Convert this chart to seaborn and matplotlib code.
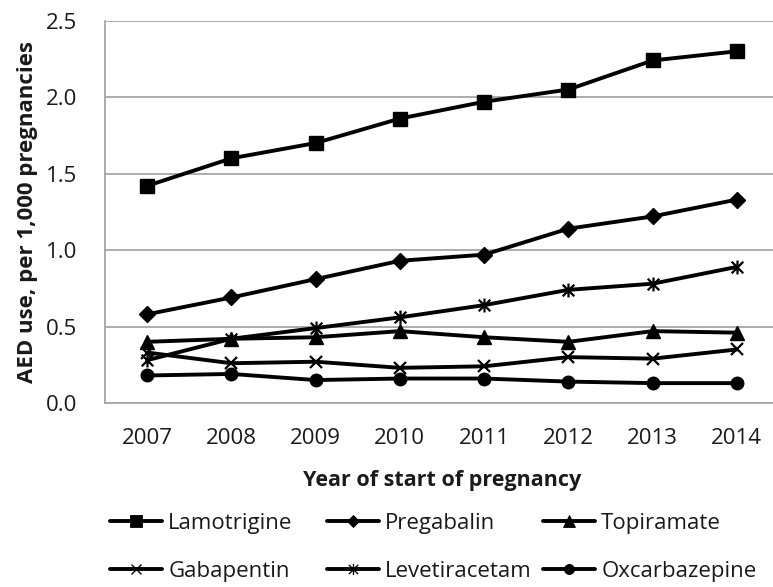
import numpy as np
import pandas as pd
import matplotlib
matplotlib.use("Agg")
import matplotlib.pyplot as plt
from matplotlib.path import Path
from matplotlib.lines import Line2D
import seaborn as sns

years = ["2007", "2008", "2009", "2010", "2011", "2012", "2013", "2014"]
lamotrigine = [1.42, 1.60, 1.70, 1.86, 1.97, 2.05, 2.24, 2.30]
pregabalin = [0.58, 0.69, 0.81, 0.93, 0.97, 1.14, 1.22, 1.33]
topiramate = [0.40, 0.42, 0.43, 0.47, 0.43, 0.40, 0.47, 0.46]
gabapentin = [0.33, 0.26, 0.27, 0.23, 0.24, 0.30, 0.29, 0.35]
levetiracetam = [0.28, 0.42, 0.49, 0.56, 0.64, 0.74, 0.78, 0.89]
oxcarbazepine = [0.18, 0.19, 0.15, 0.16, 0.16, 0.14, 0.13, 0.13]

series = {
    "Lamotrigine": lamotrigine,
    "Pregabalin": pregabalin,
    "Topiramate": topiramate,
    "Gabapentin": gabapentin,
    "Levetiracetam": levetiracetam,
    "Oxcarbazepine": oxcarbazepine,
}

rows = []
for name, vals in series.items():
    for i, v in enumerate(vals):
        rows.append({"drug": name, "x": i, "year": years[i], "value": v})
df = pd.DataFrame(rows)

star = Path([(-1, -1), (1, 1), (-1, 1), (1, -1), (0, -1.2), (0, 1.2)],
            [Path.MOVETO, Path.LINETO, Path.MOVETO, Path.LINETO, Path.MOVETO, Path.LINETO])

styles = {
    "Lamotrigine": dict(marker="s", ms=10, mew=1),
    "Pregabalin": dict(marker="D", ms=8, mew=1),
    "Topiramate": dict(marker="^", ms=10, mew=1),
    "Gabapentin": dict(marker="x", ms=9, mew=1.6),
    "Levetiracetam": dict(marker=star, ms=10, mew=1.6),
    "Oxcarbazepine": dict(marker="o", ms=9, mew=1),
}

sns.set_style("white")
plt.rcParams["font.family"] = ["Open Sans", "DejaVu Sans"]

fig = plt.figure(figsize=(7.73, 5.87), dpi=100)
ax = fig.add_axes([105 / 773, 1 - 403 / 587, 674 / 773, (403 - 20.7) / 587])

grid_c = "#a6a6a6"
text_c = "#1a1a1a"
for name in series:
    st = styles[name]
    sub = df[df["drug"] == name]
    sns.lineplot(data=sub, x="x", y="value", ax=ax, color="black", linewidth=2.8,
                 marker=st["marker"], markersize=st["ms"], markeredgewidth=st["mew"],
                 markerfacecolor="black", markeredgecolor="black", legend=False, zorder=3)

ax.set_xlim(-0.5, 7.5)
ax.set_ylim(0, 2.5)
ax.set_yticks(np.arange(0, 2.51, 0.5))
ax.set_yticklabels([f"{v:.1f}" for v in np.arange(0, 2.51, 0.5)], fontsize=16, color=text_c)
ax.set_xticks(range(len(years)))
ax.set_xticklabels(years, fontsize=16, color=text_c)
ax.set_xticks(np.arange(0.5, 7.0, 1.0), minor=True)
ax.tick_params(axis="x", which="major", length=0, pad=18)
ax.tick_params(axis="x", which="minor", length=6, color=grid_c, width=1.2, direction="out")
ax.tick_params(axis="y", length=6, color=grid_c, width=1.2, direction="out", pad=14)
ax.yaxis.grid(True, color=grid_c, linewidth=1.3)
ax.set_axisbelow(True)
for s in ["top", "right"]:
    ax.spines[s].set_visible(False)
for s in ["left", "bottom"]:
    ax.spines[s].set_color(grid_c)
    ax.spines[s].set_linewidth(1.3)

ax.set_xlabel("Year of start of pregnancy", fontsize=15.5, fontweight="bold", labelpad=15, color=text_c)
ax.set_ylabel("AED use, per 1,000 pregnancies", fontsize=16, fontweight="bold", labelpad=6, color=text_c)

handles = {}
for name in series:
    st = styles[name]
    handles[name] = Line2D([], [], color="black", linewidth=2.8, marker=st["marker"],
                           markersize=st["ms"] * 0.8, markeredgewidth=st["mew"] * 0.6,
                           markerfacecolor="black", markeredgecolor="black")

columns = [["Lamotrigine", "Gabapentin"], ["Pregabalin", "Levetiracetam"], ["Topiramate", "Oxcarbazepine"]]
col_x = [110, 327, 543]
for names, x in zip(columns, col_x):
    leg = fig.legend([handles[n] for n in names], names, loc="upper left",
                     bbox_to_anchor=(x / 773, 1 - 513 / 587), frameon=False, fontsize=16,
                     handlelength=2.35, handletextpad=0.27, labelspacing=1.2,
                     borderpad=0, borderaxespad=0, labelcolor=text_c)

fig.savefig("out.png", dpi=100)
